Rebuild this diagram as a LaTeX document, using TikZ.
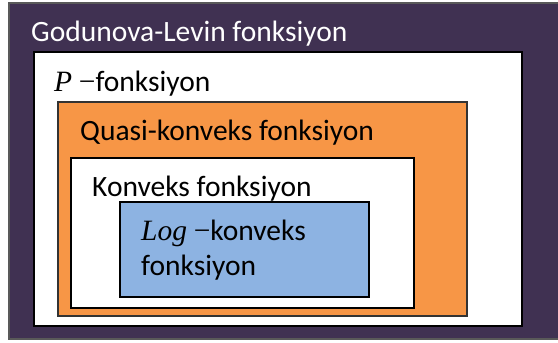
\documentclass[tikz,border=0pt]{standalone}
\usepackage{fontspec}
\setmainfont{Carlito}
\newfontfamily\mserif{Liberation Serif}
\definecolor{gpurple}{HTML}{403152}
\definecolor{qorange}{HTML}{F79646}
\definecolor{lblue}{HTML}{8DB3E2}
\tikzset{
  lbl/.style={anchor=base west, inner sep=0pt, font=\fontsize{29.5}{34}\selectfont},
  boxline/.style={draw=black, line width=2pt},
}
\begin{document}
\begin{tikzpicture}[x=1pt,y=-1pt]
\useasboundingbox (0,0) rectangle (558,343);
\fill[white] (0,0) rectangle (558,343);
% outer purple
\filldraw[fill=gpurple, draw=gray!70!black, line width=1.2pt] (9,3) rectangle (570,339);
% P white
\filldraw[fill=white, boxline] (33.5,52) rectangle (522,326);
% orange
\filldraw[fill=qorange, draw=black!80, line width=1.4pt] (58,102) rectangle (467,316);
% konveks white
\filldraw[fill=white, boxline] (71,158) rectangle (414,308);
% log blue
\filldraw[fill=lblue, boxline] (120,202) rectangle (369,297);
\node[lbl, text=white] (gl) at (31,41.5) {Godunova-Levin fonksiyon};
\node[lbl] (pf) at (54,91.5) {{\mserif\itshape P} {\mserif −}fonksiyon};
\node[lbl] (qk) at (80,140) {Quasi-konveks fonksiyon};
\node[lbl] (kf) at (92,196) {Konveks fonksiyon};
\node[lbl] (lk) at (141,240) {{\mserif\itshape Log} {\mserif −}konveks};
\node[lbl] (lf) at (141,275) {fonksiyon};
\end{tikzpicture}
\end{document}
